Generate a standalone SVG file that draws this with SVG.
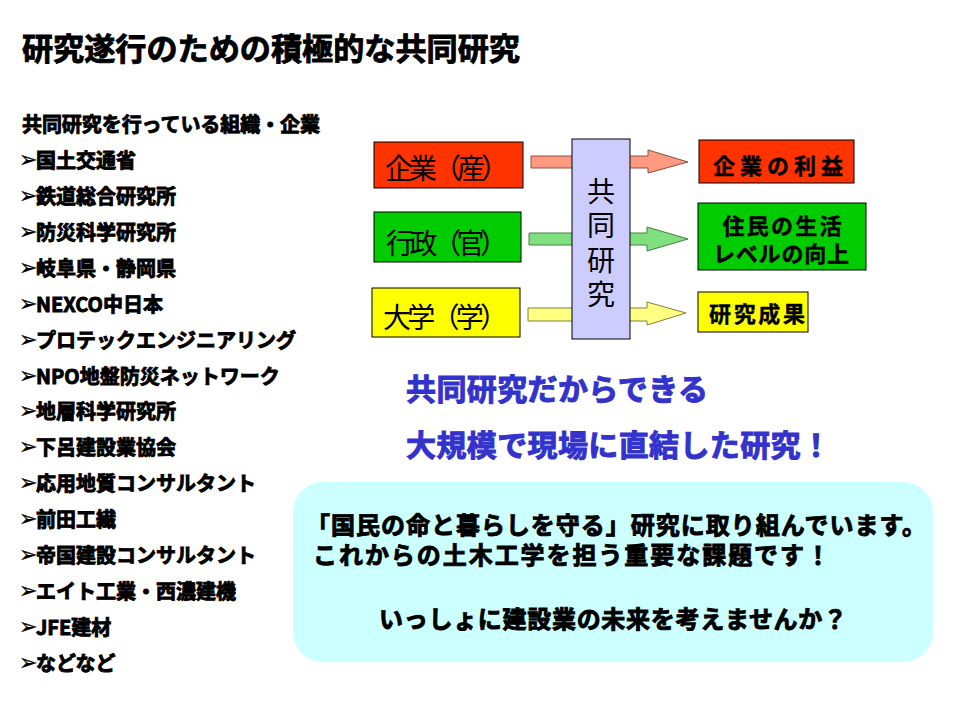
<svg xmlns="http://www.w3.org/2000/svg" width="960" height="720" viewBox="0 0 960 720">
<style>
text{font-family:"Noto Sans CJK JP","Noto Sans CJK SC",sans-serif;dominant-baseline:central}
.hv{font-weight:700;fill:#000;stroke:#000;stroke-width:0.9}
.li{font-size:20px}
.bu{font-family:"DejaVu Sans",sans-serif;font-size:22px;font-weight:400;stroke:#000;stroke-width:0.3}
.blue{font-weight:700;font-size:30px;fill:#3333CC;stroke:#3333CC;stroke-width:1}
.rg{font-weight:400;fill:#000;font-size:28px}
.rb{font-weight:700;fill:#000;font-size:22px;stroke:#000;stroke-width:0.4;text-anchor:middle}
.bx{stroke:#000;stroke-width:1}
.msg{font-size:24px}
</style>
<rect width="960" height="720" fill="#fff"/>
<g id="title">
<text class="hv" x="22" y="46" font-size="31" stroke-width="1.1" textLength="498" lengthAdjust="spacingAndGlyphs">研究遂行のための積極的な共同研究</text>
</g>
<g id="list">
<text class="hv li" x="22" y="123" textLength="298">共同研究を行っている組織・企業</text>
<text class="hv li" x="19" y="159"><tspan class="bu">➢</tspan><tspan x="36">国土交通省</tspan></text>
<text class="hv li" x="19" y="195"><tspan class="bu">➢</tspan><tspan x="36">鉄道総合研究所</tspan></text>
<text class="hv li" x="19" y="231"><tspan class="bu">➢</tspan><tspan x="36">防災科学研究所</tspan></text>
<text class="hv li" x="19" y="267"><tspan class="bu">➢</tspan><tspan x="36">岐阜県・静岡県</tspan></text>
<text class="hv li" x="19" y="303"><tspan class="bu">➢</tspan><tspan x="36">NEXCO中日本</tspan></text>
<text class="hv li" x="19" y="339"><tspan class="bu">➢</tspan><tspan x="36">プロテックエンジニアリング</tspan></text>
<text class="hv li" x="19" y="375"><tspan class="bu">➢</tspan><tspan x="36">NPO地盤防災ネットワーク</tspan></text>
<text class="hv li" x="19" y="410"><tspan class="bu">➢</tspan><tspan x="36">地層科学研究所</tspan></text>
<text class="hv li" x="19" y="446"><tspan class="bu">➢</tspan><tspan x="36">下呂建設業協会</tspan></text>
<text class="hv li" x="19" y="482"><tspan class="bu">➢</tspan><tspan x="36">応用地質コンサルタント</tspan></text>
<text class="hv li" x="19" y="518"><tspan class="bu">➢</tspan><tspan x="36">前田工繊</tspan></text>
<text class="hv li" x="19" y="554"><tspan class="bu">➢</tspan><tspan x="36">帝国建設コンサルタント</tspan></text>
<text class="hv li" x="19" y="590"><tspan class="bu">➢</tspan><tspan x="36">エイト工業・西濃建機</tspan></text>
<text class="hv li" x="19" y="626"><tspan class="bu">➢</tspan><tspan x="36">JFE建材</tspan></text>
<text class="hv li" x="19" y="662"><tspan class="bu">➢</tspan><tspan x="36">などなど</tspan></text>
</g>
<g id="connectors">
<polygon points="531,156 648,156 648,150 688,162 648,173 648,168 531,168" fill="#FF9980" stroke="#8A5040" stroke-width="1"/>
<polygon points="529,233 647,233 647,227 688,239 647,251 647,245 529,245" fill="#80E080" stroke="#408040" stroke-width="1"/>
<polygon points="528,308 647,308 647,302 686,313 647,325 647,321 528,321" fill="#FFFF80" stroke="#808040" stroke-width="1"/>
</g>
<g id="node-sangyo">
<rect class="bx" x="374" y="142" width="149" height="46" fill="#FF3300"/>
<text class="rg" x="385" y="167" textLength="124">企業（産）</text>
</g>
<g id="node-gyosei">
<rect class="bx" x="374" y="212" width="147" height="50" fill="#00CC00"/>
<text class="rg" x="386" y="242" textLength="122">行政（官）</text>
</g>
<g id="node-daigaku">
<rect class="bx" x="372" y="288" width="148" height="49" fill="#FFFF00"/>
<text class="rg" x="383" y="316" textLength="125">大学（学）</text>
</g>
<g id="node-kyodo">
<rect class="bx" x="572" y="139" width="58" height="200" fill="#CCCCFF"/>
<text class="rg" text-anchor="middle"><tspan x="601" y="190">共</tspan><tspan x="601" y="224">同</tspan><tspan x="601" y="259">研</tspan><tspan x="601" y="293">究</tspan></text>
</g>
<g id="node-rieki">
<rect class="bx" x="699" y="140" width="155" height="43" fill="#FF3300"/>
<text class="rb" x="778" y="164" textLength="130">企業の利益</text>
</g>
<g id="node-seikatsu">
<rect class="bx" x="698" y="203" width="168" height="67" fill="#00CC00"/>
<text class="rb"><tspan x="782" y="224" textLength="119">住民の生活</tspan><tspan x="781" y="252" textLength="136">レベルの向上</tspan></text>
</g>
<g id="node-seika">
<rect class="bx" x="698" y="292" width="110" height="40" fill="#FFFF00"/>
<text class="rb" x="757" y="312" textLength="96">研究成果</text>
</g>
<g id="slogan">
<text class="blue" x="406" y="387" textLength="302">共同研究だからできる</text>
<text class="blue" x="406" y="443" textLength="425">大規模で現場に直結した研究！</text>
</g>
<g id="message">
<rect x="293" y="482" width="640" height="180" rx="30" ry="30" fill="#CCFFFF"/>
<text class="hv msg"><tspan x="306" y="523" textLength="620">「国民の命と暮らしを守る」研究に取り組んでいます。</tspan><tspan x="313" y="553" textLength="517">これからの土木工学を担う重要な課題です！</tspan></text>
<text class="hv msg" x="613" y="617" text-anchor="middle" textLength="468">いっしょに建設業の未来を考えませんか？</text>
</g>
</svg>
